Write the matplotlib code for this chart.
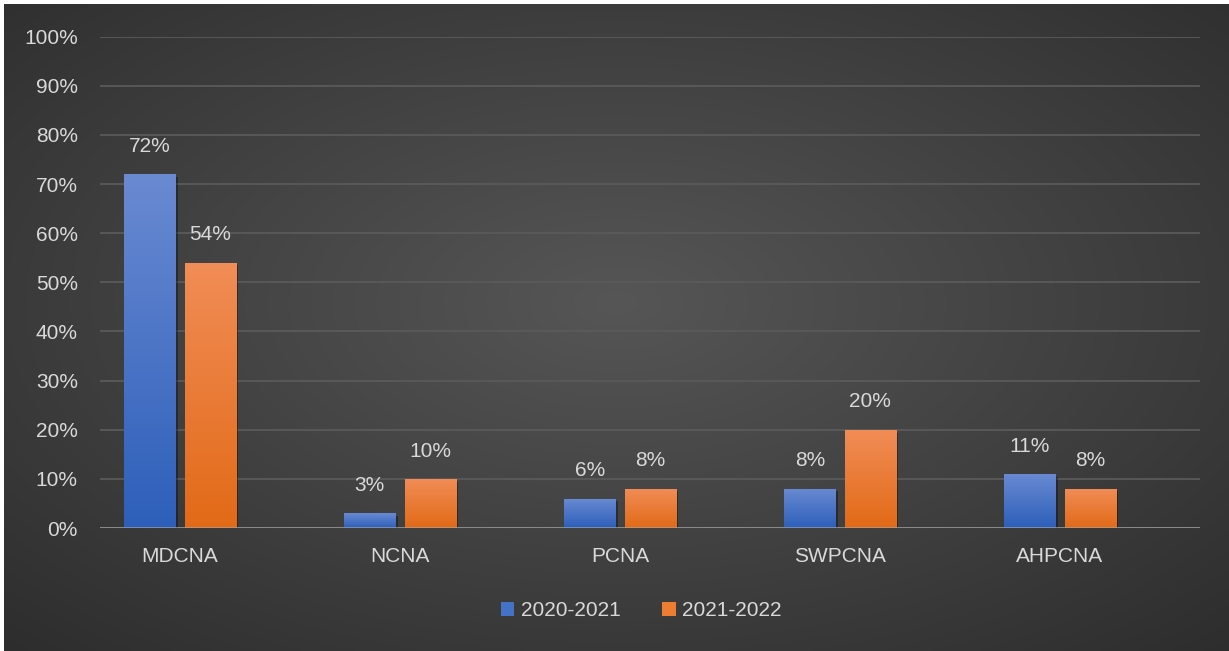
import numpy as np
import matplotlib
matplotlib.use("Agg")
import matplotlib.pyplot as plt
from matplotlib.colors import LinearSegmentedColormap
import matplotlib.patheffects as pe

categories = ["MDCNA", "NCNA", "PCNA", "SWPCNA", "AHPCNA"]
series_names = ["2020-2021", "2021-2022"]
values_2020_2021 = [72, 3, 6, 8, 11]
values_2021_2022 = [54, 10, 8, 20, 8]
y_ticks = [0, 10, 20, 30, 40, 50, 60, 70, 80, 90, 100]

plt.rcParams['font.family'] = ['Liberation Sans', 'DejaVu Sans']

W, H = 1229, 651
fig = plt.figure(figsize=(W / 100, H / 100), dpi=100)
fig.patch.set_facecolor('white')

# background radial gradient
bg = fig.add_axes([4 / W, 0, 1 - 4 / W, 1 - 4 / H])
bg.set_axis_off()
yy, xx = np.mgrid[0:H, 0:W]
r = np.sqrt(((xx - 615) / 615.0) ** 2 + ((yy - 300) / 330.0) ** 2)
lum = (0x56 - 0x1c * r) / 255.0
lum = np.clip(lum, 0.14, 1)
bg.imshow(np.dstack([lum, lum, lum]), aspect='auto', extent=[0, 1, 0, 1], interpolation='bilinear')
bg.set_xlim(0, 1)
bg.set_ylim(0, 1)

ax = fig.add_axes([100 / W, 1 - 528 / H, 1100 / W, (528 - 36.7) / H])
ax.set_facecolor('none')
for s in ax.spines.values():
    s.set_visible(False)

x = np.arange(len(categories))
bw = 0.232
off = 0.137
text_col = '#d9d9d9'

blue_cmap = LinearSegmentedColormap.from_list('b', ['#2d5fba', '#6a8ad2'])
orange_cmap = LinearSegmentedColormap.from_list('o', ['#e26a17', '#f18d57'])

grad = np.linspace(0, 1, 256).reshape(-1, 1)
for vals, dx, cmap, col, name in [(values_2020_2021, -off, blue_cmap, '#4472c4', series_names[0]),
                                  (values_2021_2022, off, orange_cmap, '#ed7d31', series_names[1])]:
    bars = ax.bar(x + dx, vals, width=bw, color=col, zorder=3, label=name,
                  path_effects=[pe.SimplePatchShadow(offset=(2, -2), alpha=0.35, shadow_rgbFace='black'), pe.Normal()])
    for b, v in zip(bars, vals):
        im = ax.imshow(grad, cmap=cmap, origin='lower', aspect='auto',
                       extent=[b.get_x(), b.get_x() + b.get_width(), 0, v], zorder=4)
        im.set_clip_path(b)
        ax.annotate(f"{v}%", (b.get_x() + b.get_width() / 2, v), xytext=(0, 20),
                    textcoords='offset points', ha='center', va='center',
                    fontsize=15, color=text_col, zorder=6)

ax.set_xlim(-80 / 220, 4 + 140 / 220)
ax.set_ylim(0, 100)
ax.set_yticks(y_ticks)
ax.set_yticklabels([f"{t}%" for t in y_ticks])
ax.set_xticks(x)
ax.set_xticklabels(categories)
ax.tick_params(axis='y', length=0, pad=16, labelsize=15, labelcolor=text_col)
ax.tick_params(axis='x', length=0, pad=14, labelsize=15, labelcolor=text_col)
ax.grid(axis='y', color='#5a5a5a', linewidth=1.3, zorder=1)
ax.set_axisbelow(True)
ax.axhline(0, color='#a6a6a6', linewidth=1.8, alpha=0.85, zorder=7)

leg = ax.legend(loc='center', bbox_to_anchor=((641 - 100) / 1100, (1 - 611 / H - (1 - 528 / H)) / ((528 - 36.7) / H)),
                ncol=2, frameon=False, fontsize=15, labelcolor=text_col,
                handlelength=0.65, handleheight=0.65, handletextpad=0.3, columnspacing=2.0)
for h in leg.legend_handles:
    h.set_path_effects([])

fig.savefig('out.png', dpi=100, facecolor=fig.get_facecolor())
